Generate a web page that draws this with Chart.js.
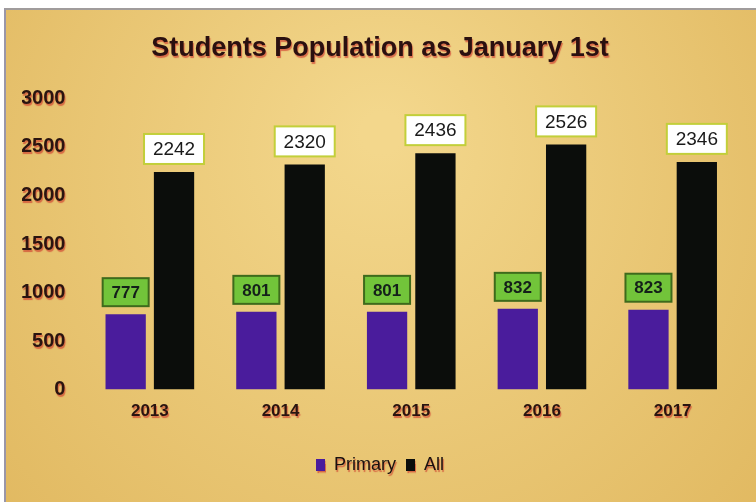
<!DOCTYPE html>
<html>
<head>
<meta charset="utf-8">
<script src="https://cdn.jsdelivr.net/npm/chart.js@4"></script>
<style>
  body { margin: 0; background: #fff; }
  #wrap {
    position: absolute; left: 4px; top: 8px; width: 752px; height: 494px;
    border-left: 2px solid #9a96a8; border-top: 2px solid #a09c9c;
  }
</style>
</head>
<body>
<div id="wrap"><canvas id="chart" width="750" height="492"></canvas></div>
<script>
const years = ["2013", "2014", "2015", "2016", "2017"];
const primaryCounts = [777, 801, 801, 832, 823];
const allCounts = [2242, 2320, 2436, 2526, 2346];
const yTicks = [0, 500, 1000, 1500, 2000, 2500, 3000];

const FONT = "'Liberation Sans', Arial";

// gold paper background + red-ish print shadow on texts
const paperPlugin = {
  id: "paper",
  beforeDraw(chart) {
    const ctx = chart.ctx;
    const w = chart.width, h = chart.height;
    const g = ctx.createRadialGradient(w * 0.5, h * 0.25, 20, w * 0.5, h * 0.4, w * 0.7);
    g.addColorStop(0, "#f3d78c");
    g.addColorStop(1, "#e0b75e");
    ctx.save();
    ctx.fillStyle = g;
    ctx.fillRect(0, 0, w, h);
    ctx.restore();
    ctx.shadowColor = "rgba(200,30,30,0.55)";
    ctx.shadowOffsetX = 1;
    ctx.shadowOffsetY = 2;
    ctx.shadowBlur = 1;
  },
  beforeDatasetsDraw(chart) {
    const ctx = chart.ctx;
    ctx.shadowColor = "rgba(0,0,0,0)";
    ctx.shadowOffsetX = 0;
    ctx.shadowOffsetY = 0;
    ctx.shadowBlur = 0;
  }
};

// value boxes above each bar
const boxLabels = {
  id: "boxLabels",
  afterDatasetsDraw(chart) {
    const ctx = chart.ctx;
    chart.data.datasets.forEach((ds, di) => {
      const meta = chart.getDatasetMeta(di);
      meta.data.forEach((bar, i) => {
        const txt = String(ds.data[i]);
        const primary = di === 0;
        const bw = primary ? 46 : 60;
        const bh = primary ? 28 : 30;
        const x = bar.x - bw / 2;
        const y = bar.y - 8 - bh;
        ctx.save();
        ctx.fillStyle = primary ? "#72c43a" : "#ffffff";
        ctx.strokeStyle = primary ? "#3e6a1c" : "#c2cf3a";
        ctx.lineWidth = 2;
        ctx.fillRect(x, y, bw, bh);
        ctx.strokeRect(x, y, bw, bh);
        ctx.fillStyle = primary ? "#14201a" : "#1a1a1a";
        ctx.font = primary ? "bold 17px " + FONT : "19px " + FONT;
        ctx.textAlign = "center";
        ctx.textBaseline = "middle";
        ctx.fillText(txt, bar.x, y + bh / 2 + 1);
        ctx.restore();
      });
    });
  }
};

new Chart(document.getElementById("chart"), {
  type: "bar",
  data: {
    labels: years,
    datasets: [
      { label: "Primary", data: primaryCounts, backgroundColor: "#4a1c9c",
        categoryPercentage: 0.74, barPercentage: 0.833 },
      { label: "All", data: allCounts, backgroundColor: "#0b0d0b",
        categoryPercentage: 0.74, barPercentage: 0.833 }
    ]
  },
  options: {
    responsive: false,
    animation: false,
    layout: { padding: { left: 16, right: 18, top: 20, bottom: 18 } },
    plugins: {
      title: {
        display: true,
        text: "Students Population as January 1st",
        color: "#2a1010",
        font: { family: FONT, size: 27, weight: "bold" },
        padding: { top: 2, bottom: 34 }
      },
      legend: {
        position: "bottom",
        labels: {
          color: "#1a1010",
          font: { family: FONT, size: 18 },
          boxWidth: 9, boxHeight: 12, padding: 10
        }
      },
      tooltip: { enabled: false }
    },
    scales: {
      x: {
        grid: { display: false, drawTicks: false },
        border: { display: false },
        afterFit(scale) { scale.height += 12; },
        ticks: { color: "#2a1410", padding: 12,
          font: { family: FONT, size: 17, weight: "bold" } }
      },
      y: {
        min: 0, max: 3000,
        afterBuildTicks(axis) { axis.ticks = yTicks.map(v => ({ value: v })); },
        afterFit(scale) { scale.width -= 20; },
        grid: { display: false, drawTicks: false },
        border: { display: false },
        ticks: { color: "#2a1410", padding: 19,
          callback: v => String(v),
          font: { family: FONT, size: 20, weight: "bold" } }
      }
    }
  },
  plugins: [paperPlugin, boxLabels]
});
</script>
</body>
</html>
